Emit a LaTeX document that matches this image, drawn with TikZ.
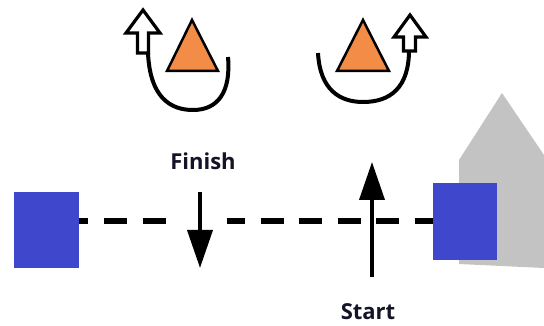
\documentclass[tikz,border=0pt]{standalone}
\usepackage{fontspec}
\setmainfont{Open Sans}
\usetikzlibrary{arrows.meta}
\definecolor{boxblue}{RGB}{63,72,204}
\definecolor{houseg}{RGB}{195,195,195}
\definecolor{triorange}{RGB}{242,140,70}
\definecolor{lblink}{RGB}{20,20,40}
\tikzset{
  blockbox/.style={fill=boxblue, draw=none},
  conearrow/.style={draw=black, line width=2.5pt, fill=triorange, line join=miter},
  hollowarrow/.style={draw=black, line width=3.2pt, fill=white, line join=miter},
  turnarc/.style={draw=black, line width=4pt},
  moveline/.style={draw=black, line width=3.8pt, -{Triangle[width=25pt,length=38pt]}},
  pathline/.style={draw=black, line width=5.5pt, dash pattern=on 23pt off 16pt},
  lbl/.style={font=\bfseries\fontsize{22}{26}\selectfont, text=lblink, inner sep=0pt, anchor=base}
}
\begin{document}
\begin{tikzpicture}[x=1pt,y=-1pt]
\useasboundingbox (0,0) rectangle (544,326);
% gray house
\fill[houseg] (459,264) -- (459,160) -- (502,93) -- (544,155) -- (544,268) -- cycle;
% squares
\node[blockbox, minimum width=65pt, minimum height=76pt, inner sep=0pt] (lsq) at (46.5,230) {};
\node[blockbox, minimum width=64pt, minimum height=77pt, inner sep=0pt] (rsq) at (465,221.5) {};
% dashed path
\coordinate (gapL) at (167,221);
\coordinate (gapR) at (227,221);
\draw[pathline, dash phase=14pt] (lsq.east |- gapL) -- (gapL);
\draw[pathline, dash pattern=on 23pt off 15.5pt, dash phase=5pt] (gapR) -- (rsq.west |- gapR);
% arrows
\coordinate (fTop) at (200,192);
\coordinate (fBot) at (200,268);
\coordinate (sBot) at (372,277);
\coordinate (sTop) at (372,162);
\draw[moveline] (fTop) -- (fBot);
\draw[moveline] (sBot) -- (sTop);
% labels
\node[lbl] (finish) at (203,170) {Finish};
\node[lbl] (start) at (368,319) {Start};
% left triangle and turn
\draw[conearrow] (192,20) -- (218,71) -- (167,71) -- cycle;
\draw[turnarc] (148,53) .. controls (150,97) and (170,110) .. (193,110) .. controls (218,110) and (231,92) .. (228,57);
\draw[hollowarrow] (143,10) -- (160,33) -- (148.5,33) -- (148.5,53) -- (137.5,53) -- (137.5,33) -- (126,33) -- cycle;
% right triangle and turn
\draw[conearrow] (363,20) -- (389,71) -- (337,71) -- cycle;
\draw[turnarc] (318,53) .. controls (320,90) and (340,102) .. (363,102) .. controls (390,102) and (409,88) .. (409,50);
\draw[hollowarrow] (410,15) -- (426,37) -- (415.5,37) -- (415.5,51) -- (403.5,51) -- (403.5,37) -- (394,37) -- cycle;
\end{tikzpicture}
\end{document}
